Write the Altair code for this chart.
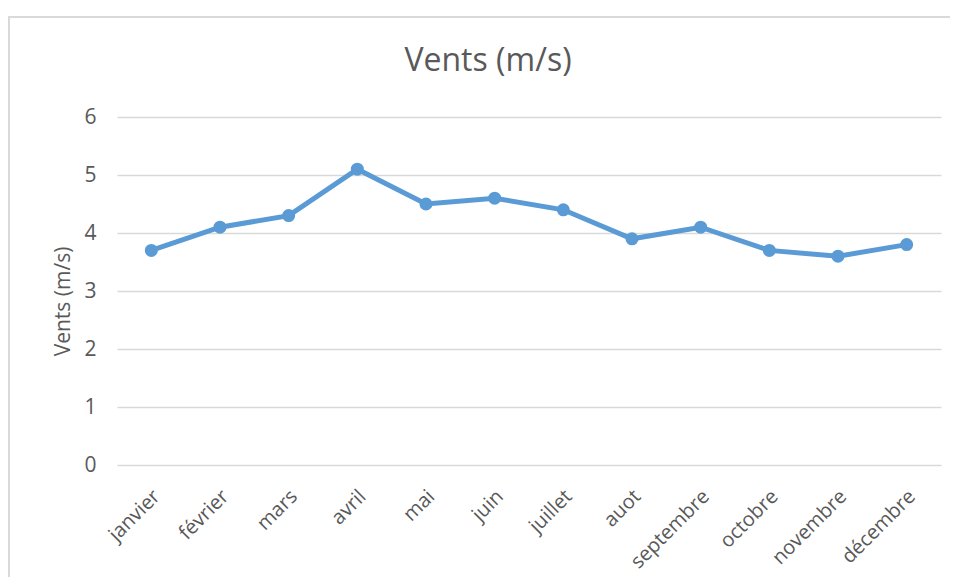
import altair as alt
import pandas as pd

months = ["janvier", "février", "mars", "avril", "mai", "juin", "juillet",
          "auot", "septembre", "octobre", "novembre", "décembre"]
vents = [3.7, 4.1, 4.3, 5.1, 4.5, 4.6, 4.4, 3.9, 4.1, 3.7, 3.6, 3.8]
y_ticks = [0, 1, 2, 3, 4, 5, 6]

df = pd.DataFrame({"mois": months, "vents": vents})

FONT = "Open Sans"
GREY = "#595959"
BLUE = "#5B9BD5"

x_enc = alt.X("mois:N", sort=months, title=None,
              scale=alt.Scale(type="point", padding=0.5),
              axis=alt.Axis(labelAngle=-45, labelAlign="right", labelBaseline="top",
                            labelPadding=21, labelOffset=-2, ticks=False, domain=False, grid=False,
                            labelFontSize=20, labelColor=GREY, labelFont=FONT))
y_enc = alt.Y("vents:Q", title="Vents (m/s)",
              scale=alt.Scale(domain=[0, 6], nice=False),
              axis=alt.Axis(values=y_ticks, ticks=False, domain=False, grid=True,
                            gridColor="#d9d9d9", gridWidth=1.5,
                            labelFontSize=21, labelColor=GREY, labelFont=FONT,
                            labelPadding=21, titleFontSize=21, titleColor=GREY,
                            titleFont=FONT, titleFontWeight="normal", titlePadding=10,
                            titleY=184))

line = alt.Chart(df).mark_line(color=BLUE, strokeWidth=5).encode(x=x_enc, y=y_enc)
pts = alt.Chart(df).mark_point(color=BLUE, filled=True, opacity=1, size=170).encode(x=x_enc, y=y_enc)

frame = alt.Chart(df).mark_rect(fill=None, stroke="#d9d9d9", strokeWidth=2, clip=False).encode(
    x=alt.value(-108), x2=alt.value(900), y=alt.value(-100), y2=alt.value(520)
)

chart = alt.layer(frame, line, pts).properties(
    width=824, height=348,
    autosize=alt.AutoSizeParams(type="none"),
    padding={"left": 109, "top": 109, "right": 9, "bottom": 112},
    title=alt.TitleParams("Vents (m/s)", font=FONT, fontSize=32, fontWeight="normal",
                          color=GREY, anchor="middle", dx=-41, offset=-62),
).configure_view(stroke=None)

chart.save("out.html", embed_options={"renderer": "svg", "actions": False})
